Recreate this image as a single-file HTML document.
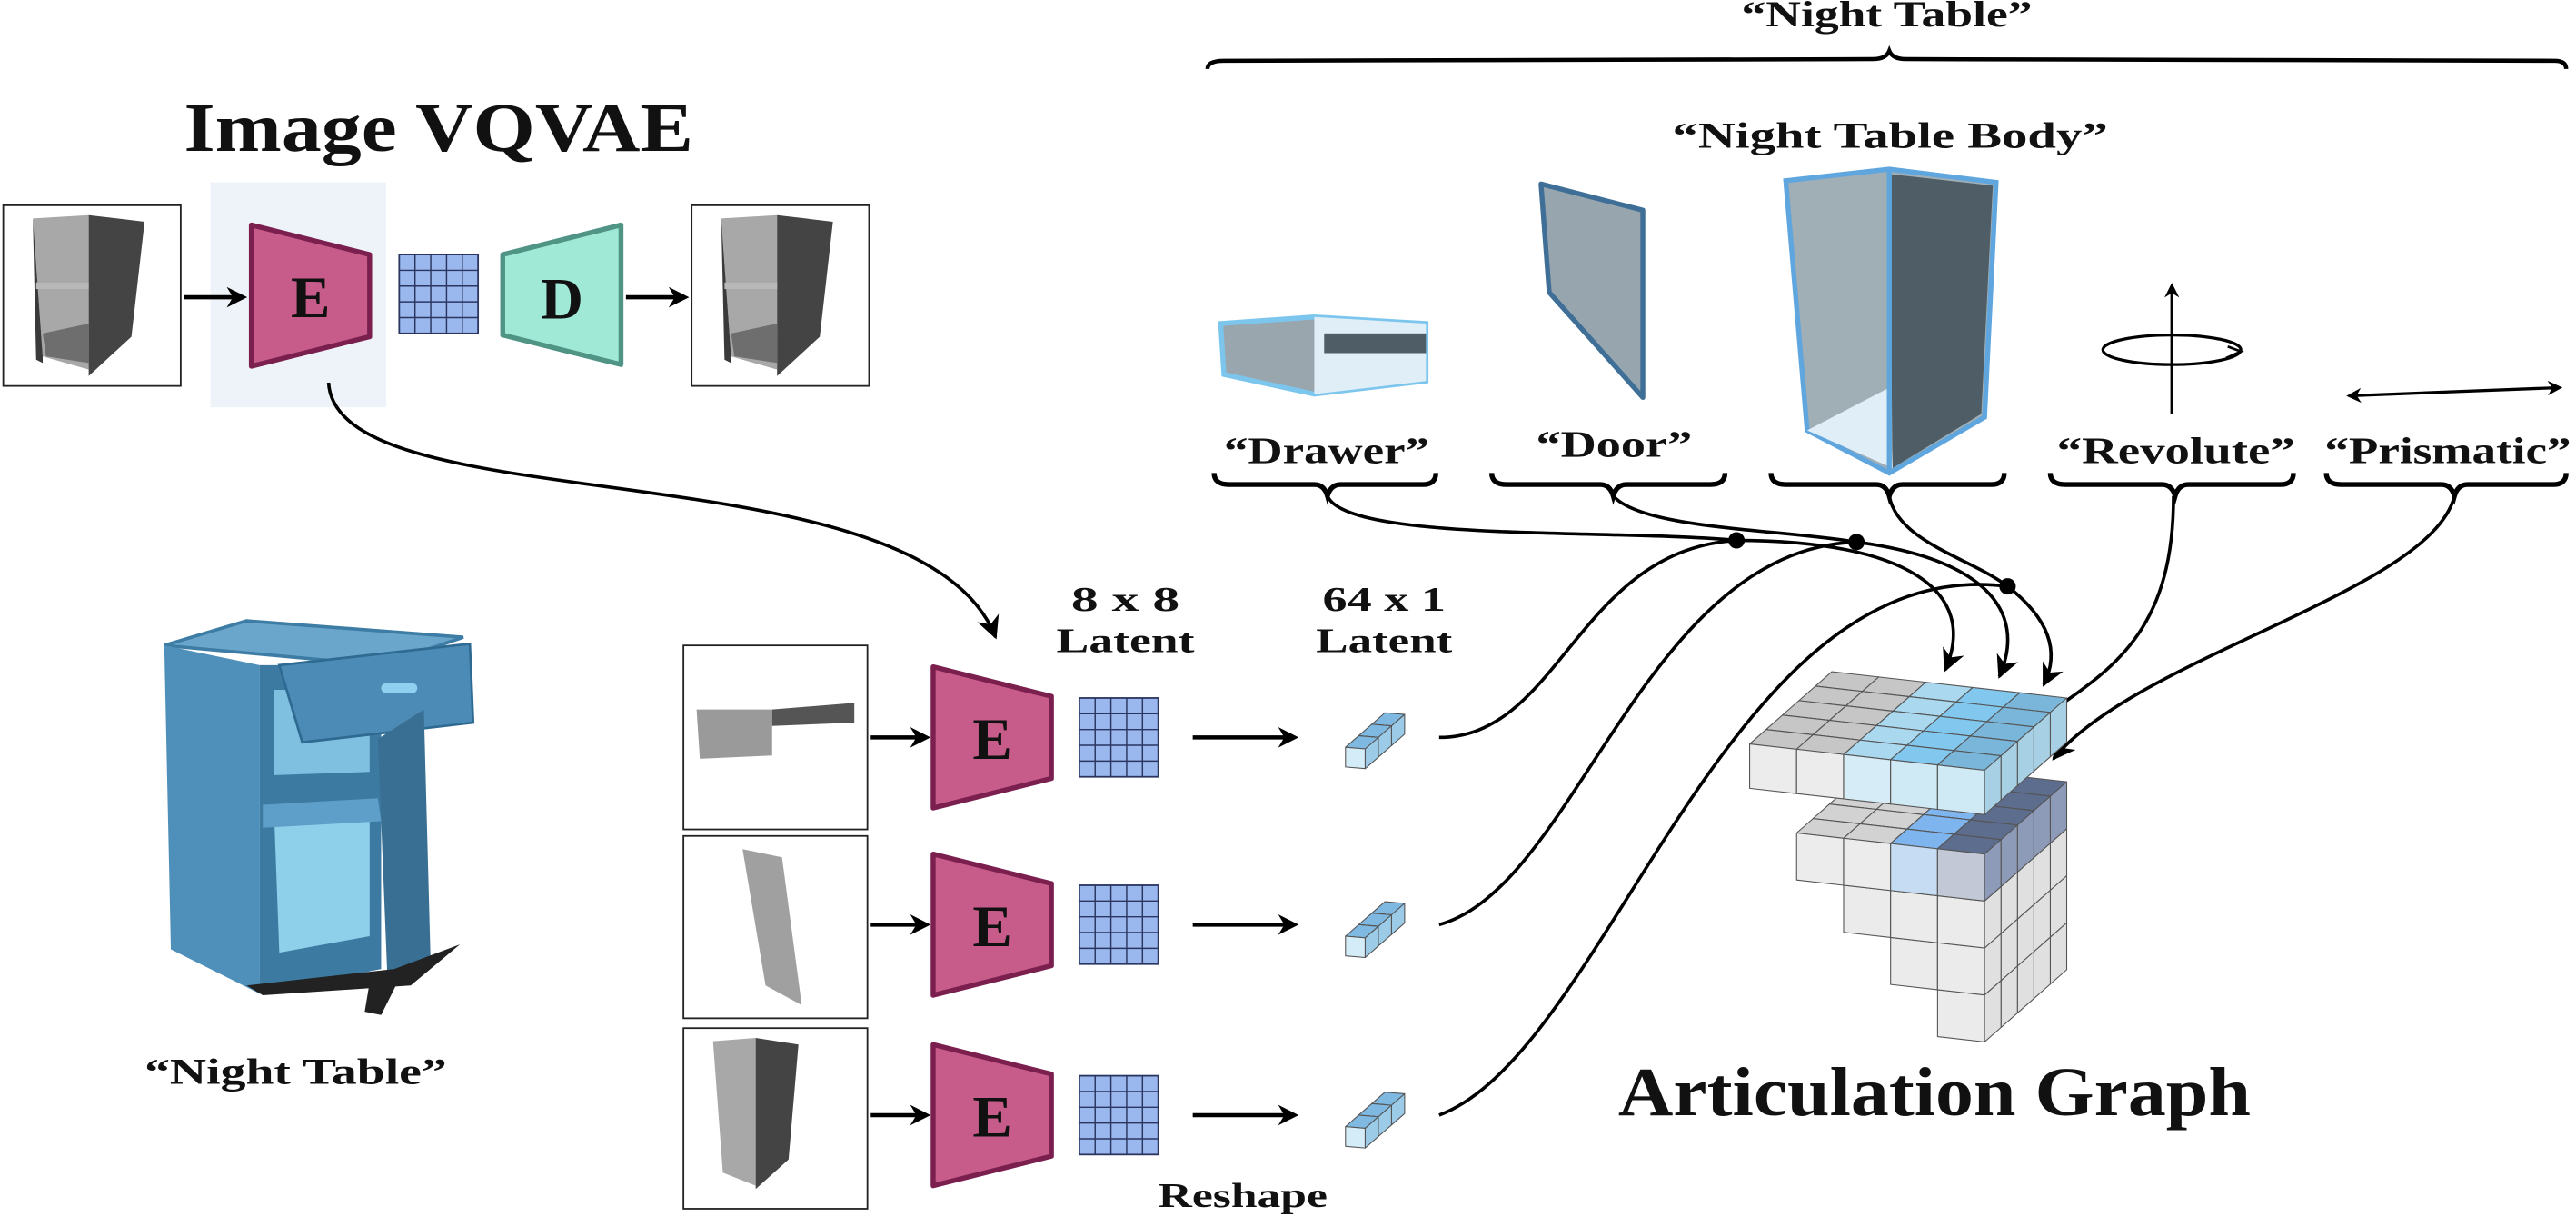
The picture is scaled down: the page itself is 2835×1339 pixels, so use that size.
<!DOCTYPE html>
<html><head><meta charset="utf-8"><style>
html,body{margin:0;padding:0;background:#fff;}
svg{display:block;}
text{font-family:"Liberation Serif",serif;font-weight:bold;fill:#111;}
</style></head><body>
<svg id="s" width="2835" height="1339" viewBox="0 0 1568 741" preserveAspectRatio="none" xmlns="http://www.w3.org/2000/svg">
<defs>
<marker id="ar" viewBox="0 0 10 10" refX="8" refY="5" markerWidth="5" markerHeight="5" orient="auto-start-reverse"><path d="M0,0 L10,5 L0,10 L3,5 z" fill="#000"/></marker>
<marker id="ar2" viewBox="0 0 10 10" refX="9" refY="5" markerWidth="7" markerHeight="7" orient="auto-start-reverse"><path d="M0,0 L10,5 L0,10 L3,5 z" fill="#000"/></marker>
<g id="cab">
<rect x="0" y="0" width="108" height="110" fill="#fff" stroke="#222" stroke-width="1"/>
<polygon points="18,8 52,6 52,100 24,92" fill="#a8a8a8"/>
<polygon points="18,8 24,92 24,96 20,94" fill="#3a3a3a"/>
<polygon points="52,6 86,10 78,80 52,104" fill="#444"/>
<polygon points="24,78 52,72 52,96 26,92" fill="#6e6e6e"/>
<rect x="20" y="47" width="32" height="4" fill="#b8b8b8"/>
</g>
<g id="enc">
<polygon points="0,0 72,18 72,68 0,86" fill="#c75c8a" stroke="#7b1f4e" stroke-width="3" stroke-linejoin="round"/>
<text x="36" y="56" font-size="36" text-anchor="middle">E</text>
</g>
<g id="grid">
<rect x="0" y="0" width="48" height="48" fill="#9bb8ee" stroke="#2a3560" stroke-width="1"/>
<path d="M9.6,0V48M19.2,0V48M28.8,0V48M38.4,0V48M0,9.6H48M0,19.2H48M0,28.8H48M0,38.4H48" stroke="#2a3560" stroke-width="0.8"/>
</g>
</defs>

<text x="112" y="92" font-size="42" textLength="310" lengthAdjust="spacingAndGlyphs">Image VQVAE</text>
<rect x="128" y="111" width="107" height="137" fill="#eef3f9"/>
<use href="#cab" x="2" y="125"/>
<use href="#cab" x="421" y="125"/>
<line x1="112" y1="181" x2="148" y2="181" stroke="#000" stroke-width="2.5" marker-end="url(#ar)"/>
<use href="#enc" x="153" y="137"/>
<use href="#grid" x="243" y="155"/>
<polygon points="306,155 378,137 378,222 306,204" fill="#a0e9d7" stroke="#4f9485" stroke-width="3" stroke-linejoin="round"/>
<text x="342" y="194" font-size="36" text-anchor="middle">D</text>
<line x1="381" y1="181" x2="417" y2="181" stroke="#000" stroke-width="2.5" marker-end="url(#ar)"/>
<path d="M200,233 C205,320 560,270 606,388" fill="none" stroke="#000" stroke-width="2" marker-end="url(#ar2)"/>

<g>
<polygon points="100,393 150,378 282,388 232,405" fill="#6aa6cc" stroke="#3d7ca4" stroke-width="2"/>
<polygon points="100,393 158,405 158,605 104,578" fill="#4f90ba"/>
<polygon points="158,405 232,405 232,590 158,605" fill="#3c7aa2"/>
<polygon points="167,420 225,420 225,470 167,472" fill="#7fc0e0"/>
<polygon points="167,500 225,498 225,570 170,580" fill="#8ecfea"/>
<polygon points="160,490 230,486 232,500 160,504" fill="#5d9fc8"/>
<polygon points="170,405 286,392 288,440 184,452" fill="#4b8bb6" stroke="#2f6a92" stroke-width="1.5"/>
<rect x="232" y="416" width="22" height="6" rx="3" fill="#8fd0f0"/>
<polygon points="230,450 258,432 262,582 236,600" fill="#3a6f94"/>
<polygon points="150,600 240,590 280,575 250,600 160,606" fill="#222"/>
<polygon points="225,598 245,592 232,618 222,616" fill="#222"/>
</g>
<text x="88" y="660" font-size="22" textLength="184" lengthAdjust="spacingAndGlyphs">“Night Table”</text>

<g>
<rect x="416" y="393" width="112" height="112" fill="#fff" stroke="#222"/>
<polygon points="424,432 470,432 470,460 426,462" fill="#9a9a9a"/>
<polygon points="470,432 520,428 520,440 470,442" fill="#555"/>
<rect x="416" y="509" width="112" height="111" fill="#fff" stroke="#222"/>
<polygon points="452,517 476,522 488,612 466,600" fill="#a0a0a0"/>
<rect x="416" y="626" width="112" height="110" fill="#fff" stroke="#222"/>
<polygon points="434,634 460,632 460,722 440,714" fill="#a8a8a8"/>
<polygon points="460,632 486,636 480,706 460,724" fill="#444"/>
</g>
<g stroke="#000" stroke-width="2.5">
<line x1="530" y1="449" x2="564" y2="449" marker-end="url(#ar)"/>
<line x1="530" y1="563" x2="564" y2="563" marker-end="url(#ar)"/>
<line x1="530" y1="679" x2="564" y2="679" marker-end="url(#ar)"/>
<line x1="726" y1="449" x2="788" y2="449" marker-end="url(#ar)"/>
<line x1="726" y1="563" x2="788" y2="563" marker-end="url(#ar)"/>
<line x1="726" y1="679" x2="788" y2="679" marker-end="url(#ar)"/>
</g>
<use href="#enc" x="568" y="406"/>
<use href="#enc" x="568" y="520"/>
<use href="#enc" x="568" y="636"/>
<use href="#grid" x="657" y="425"/>
<use href="#grid" x="657" y="539"/>
<use href="#grid" x="657" y="655"/>
<text x="652" y="372" font-size="21" textLength="66" lengthAdjust="spacingAndGlyphs">8 x 8</text>
<text x="643" y="397" font-size="21" textLength="84" lengthAdjust="spacingAndGlyphs">Latent</text>
<text x="805" y="372" font-size="21" textLength="75" lengthAdjust="spacingAndGlyphs">64 x 1</text>
<text x="801" y="397" font-size="21" textLength="83" lengthAdjust="spacingAndGlyphs">Latent</text>
<text x="705" y="735" font-size="21" textLength="103" lengthAdjust="spacingAndGlyphs">Reshape</text>

<text x="1060" y="16" font-size="22" textLength="177" lengthAdjust="spacingAndGlyphs">“Night Table”</text>
<path d="M735,42 Q735,37 745,37 L1140,36 Q1148,36 1150,31 Q1152,36 1160,36 L1555,37 Q1562,37 1562,42" fill="none" stroke="#000" stroke-width="2.5"/>
<text x="1018" y="90" font-size="22" textLength="265" lengthAdjust="spacingAndGlyphs">“Night Table Body”</text>
<polygon points="743,197 800,193 868,197 868,232 800,240 745,228" fill="#9aa6ae" stroke="#7cc6ee" stroke-width="3"/>
<polygon points="800,193 868,197 868,232 800,240" fill="#dfeef7"/>
<rect x="806" y="203" width="62" height="12" fill="#4f5e66"/>
<polygon points="938,112 1000,128 1000,242 943,178" fill="#97a6ae" stroke="#3f6f96" stroke-width="3" stroke-linejoin="round"/>
<polygon points="1087,110 1150,103 1215,111 1208,254 1150,288 1100,262" fill="#a0aeb5" stroke="#5fa6de" stroke-width="3"/>
<polygon points="1150,106 1213,113 1206,252 1152,285" fill="#4e5d66"/>
<polygon points="1100,262 1150,236 1152,285" fill="#dfeef7"/>
<line x1="1150" y1="104" x2="1150" y2="288" stroke="#5fa6de" stroke-width="3"/>
<line x1="1322" y1="252" x2="1322" y2="174" stroke="#000" stroke-width="1.8" marker-end="url(#ar)"/>
<ellipse cx="1322" cy="213" rx="42" ry="9" fill="none" stroke="#000" stroke-width="1.8"/>
<path d="M1355,218 L1364,214 L1356,211" fill="none" stroke="#000" stroke-width="1.5"/>
<line x1="1430" y1="241" x2="1558" y2="236" stroke="#000" stroke-width="1.8" marker-start="url(#ar)" marker-end="url(#ar)"/>
<g font-size="23">
<text x="745" y="282" textLength="125" lengthAdjust="spacingAndGlyphs">“Drawer”</text>
<text x="935" y="278" textLength="95" lengthAdjust="spacingAndGlyphs">“Door”</text>
<text x="1252" y="282" textLength="145" lengthAdjust="spacingAndGlyphs">“Revolute”</text>
<text x="1415" y="282" textLength="150" lengthAdjust="spacingAndGlyphs">“Prismatic”</text>
</g>
<g fill="none" stroke="#000" stroke-width="3">
<path d="M739,288 Q739,295 748,295 L800,295 Q806,295 808,302 Q810,295 816,295 L866,295 Q874,295 874,288"/>
<path d="M908,288 Q908,295 917,295 L974,295 Q980,295 982,302 Q984,295 990,295 L1041,295 Q1050,295 1050,288"/>
<path d="M1078,288 Q1078,295 1087,295 L1142,295 Q1148,295 1150,302 Q1152,295 1158,295 L1212,295 Q1220,295 1220,288"/>
<path d="M1248,288 Q1248,295 1257,295 L1316,295 Q1322,295 1324,302 Q1326,295 1332,295 L1388,295 Q1396,295 1396,288"/>
<path d="M1416,288 Q1416,295 1425,295 L1486,295 Q1492,295 1494,302 Q1496,295 1502,295 L1554,295 Q1562,295 1562,288"/>
</g>
<g fill="none" stroke="#000" stroke-width="2">
<path d="M808,302 C820,330 980,322 1057,329"/>
<path d="M982,302 C1000,322 1080,322 1130,330"/>
<path d="M1150,302 C1155,330 1200,340 1222,357"/>
<path d="M876,449 C950,449 960,335 1057,329"/>
<path d="M876,563 C960,540 1000,335 1130,330"/>
<path d="M876,679 C980,640 1050,335 1222,357"/>
<path d="M1057,329 C1160,329 1205,360 1184,408" marker-end="url(#ar2)"/>
<path d="M1130,330 C1205,340 1235,370 1217,412" marker-end="url(#ar2)"/>
<path d="M1222,357 C1245,375 1255,395 1244,417" marker-end="url(#ar2)"/>
<path d="M1323,302 C1323,380 1290,405 1250,432"/>
<path d="M1494,302 C1480,360 1300,400 1250,462" marker-end="url(#ar2)"/>
</g>
<circle cx="1057" cy="329" r="5" fill="#000"/>
<circle cx="1130" cy="330" r="5" fill="#000"/>
<circle cx="1222" cy="357" r="5" fill="#000"/>
<g id="cubes"></g>
<text x="985" y="679" font-size="42" textLength="385" lengthAdjust="spacingAndGlyphs">Articulation Graph</text>
</svg>
<script>
(function(){
var g=document.getElementById('cubes'),NS='http://www.w3.org/2000/svg';
function poly(pts,fill){var p=document.createElementNS(NS,'polygon');p.setAttribute('points',pts.map(function(q){return q[0].toFixed(1)+','+q[1].toFixed(1)}).join(' '));p.setAttribute('fill',fill);p.setAttribute('stroke','#555');p.setAttribute('stroke-width','0.6');p.setAttribute('stroke-linejoin','round');g.appendChild(p);}
function cube(O,a,d,h,i,j,z,ct,cf,cr){
 function P(x,y,k){return [O[0]+x*a[0]+y*d[0]+k*h[0],O[1]+x*a[1]+y*d[1]+k*h[1]];}
 poly([P(i,j,z+1),P(i+1,j,z+1),P(i+1,j+1,z+1),P(i,j+1,z+1)],ct);
 poly([P(i,j,z),P(i+1,j,z),P(i+1,j,z+1),P(i,j,z+1)],cf);
 poly([P(i+1,j,z),P(i+1,j+1,z),P(i+1,j+1,z+1),P(i+1,j,z+1)],cr);
}
var a=[28.6,3.2],d=[10,-8.8],h=[0,-27];
var Ol=[1065,480+24+28.6],hl=[0,-28.6];
var lowTop=['#d2d2d2','#d2d2d2','#d2d2d2','#7fb5ee','#5d6d8e'];
var lowFront=['#ececec','#ececec','#ececec','#c6dcf2','#c2c8d6'];
for(var j=4;j>=0;j--)for(var i=1;i<5;i++)for(var l=3;l>=0;l--){
 if(i<1+l)continue;
 var top=(l==0);
 cube(Ol,a,d,hl,i,j,-l, top?lowTop[i]:'#e6e6e6', top?lowFront[i]:'#ebebeb', top?'#8d9ab8':'#e0e0e0');
}
var Ot=[1065,480];
var tt=['#c6c6c6','#c6c6c6','#aad8ef','#82c8ee','#7ab6da'];
var tf=['#ececec','#ececec','#d6ecf7','#cfe9f5','#cfe9f5'];
for(var j=4;j>=0;j--)for(var i=0;i<5;i++)cube(Ot,a,d,h,i,j,0,tt[i],tf[i],'#a8d0e4');
[[819,467],[819,582],[819,698]].forEach(function(O){
 for(var j=2;j>=0;j--)cube(O,[12,1],[8,-7],[0,-12],0,j,0,'#7fb8e0','#d4ecf8','#9ccbe8');
});
})();
</script>
</body></html>
